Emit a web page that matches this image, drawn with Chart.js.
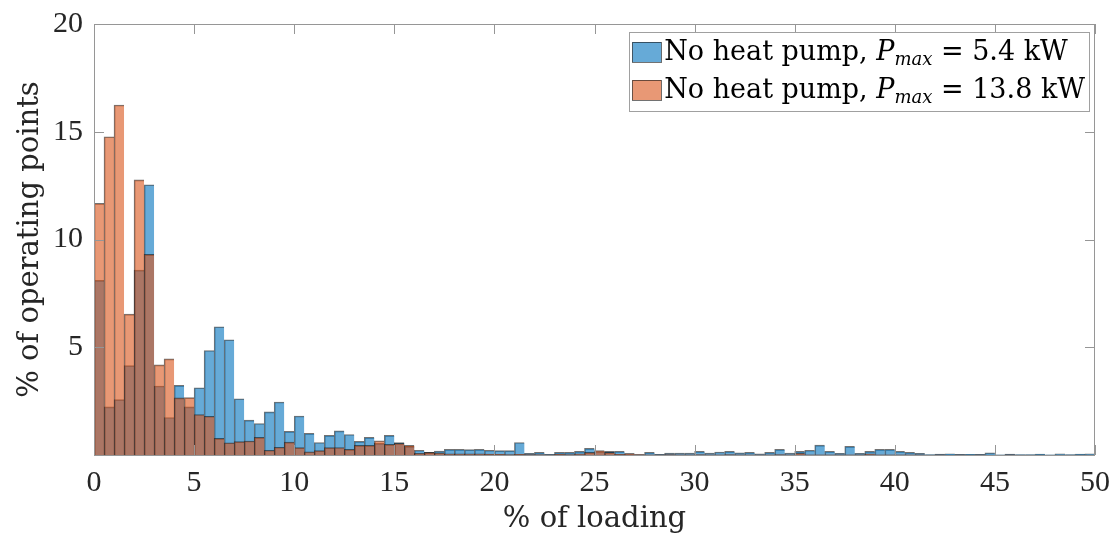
<!DOCTYPE html>
<html>
<head>
<meta charset="utf-8">
<script src="https://cdn.jsdelivr.net/npm/chart.js@4/dist/chart.umd.min.js"></script>
<style>
  html, body { margin: 0; padding: 0; background: #fff; }
  #wrap { width: 1116px; height: 537px; }
</style>
</head>
<body>
<div id="wrap"><canvas id="histChart" width="1116" height="537"></canvas></div>
<script>
// histogram bins: 0..50 % of loading, width 0.5
var binWidth = 0.5;

// % of operating points, no heat pump, Pmax = 5.4 kW
var lowPmax = [
  8.1, 2.23, 2.57, 4.15, 8.58, 12.54, 3.2, 1.74, 3.23, 2.23,
  3.12, 4.85, 5.95, 5.35, 2.61, 1.62, 1.46, 2.0, 2.46, 1.1,
  1.81, 1.0, 0.58, 0.91, 1.12, 0.95, 0.63, 0.82, 0.54, 0.91,
  0.58, 0.4, 0.22, 0.12, 0.18, 0.26, 0.26, 0.25, 0.26, 0.22,
  0.2, 0.2, 0.58, 0.08, 0.12, 0.03, 0.12, 0.12, 0.17, 0.31,
  0.15, 0.17, 0.17, 0.07, 0.02, 0.12, 0.03, 0.09, 0.09, 0.09,
  0.17, 0.09, 0.14, 0.17, 0.1, 0.12, 0.05, 0.12, 0.26, 0.09,
  0.17, 0.22, 0.46, 0.17, 0.08, 0.4, 0.08, 0.17, 0.26, 0.26,
  0.17, 0.12, 0.08, 0.02, 0.04, 0.06, 0.03, 0.03, 0.03, 0.1,
  0.01, 0.04, 0.02, 0.02, 0.04, 0.01, 0.05, 0.02, 0.04, 0.05
];

// % of operating points, no heat pump, Pmax = 13.8 kW
var highPmax = [
  11.68, 14.77, 16.24, 6.54, 12.77, 9.31, 4.18, 4.46, 2.65, 2.66,
  1.88, 1.8, 0.77, 0.57, 0.62, 0.65, 0.82, 0.22, 0.36, 0.6,
  0.34, 0.15, 0.2, 0.34, 0.35, 0.26, 0.45, 0.45, 0.66, 0.49,
  0.54, 0.45, 0.08, 0.12, 0.1, 0.05, 0.05, 0.05, 0.05, 0.04,
  0.03, 0.02, 0.03, 0.02, 0.02, 0.01, 0.03, 0.02, 0.05, 0.12,
  0.2, 0.12, 0.03, 0.07, 0.02, 0.01, 0.01, 0.02, 0.01, 0.01,
  0.02, 0.01, 0.01, 0.02, 0.01, 0.01, 0.01, 0.01, 0.02, 0.01,
  0.08, 0.01, 0.01, 0.01, 0.01, 0.01, 0.01, 0.05, 0.01, 0.01,
  0.01, 0.01, 0.01, 0, 0.01, 0, 0.01, 0, 0.01, 0,
  0, 0.01, 0, 0, 0, 0, 0, 0, 0, 0
];

var xTicks = [0, 5, 10, 15, 20, 25, 30, 35, 40, 45, 50];
var yTicks = [0, 5, 10, 15, 20];

var legendNames = ['No heat pump, ', 'No heat pump, '];
var legendValues = [' = 5.4 kW', ' = 13.8 kW'];

var blueFill = 'rgba(0, 114, 189, 0.6)';
var orangeFill = 'rgba(217, 83, 25, 0.6)';
var edge = 'rgba(20, 20, 20, 0.6)';
var serif = "'Liberation Serif', 'DejaVu Serif', serif";
var wideSerif = "'DejaVu Serif', 'Liberation Serif', serif";

function toPoints(values) {
  return values.map(function (v, i) {
    return { x: (i + 0.5) * binWidth, y: v };
  });
}

// box around the axes plus inward ticks on all four sides (MATLAB style)
var frameTicks = {
  id: 'frameTicks',
  afterDatasetsDraw: function (chart) {
    var ctx = chart.ctx;
    var a = chart.chartArea;
    var x = chart.scales.x;
    var y = chart.scales.y;
    var len = 10;
    ctx.save();
    ctx.strokeStyle = '#969696';
    ctx.lineWidth = 1;
    ctx.beginPath();
    xTicks.forEach(function (t) {
      var px = Math.round(x.getPixelForValue(t)) + 0.5;
      ctx.moveTo(px, a.bottom);
      ctx.lineTo(px, a.bottom - len);
      ctx.moveTo(px, a.top);
      ctx.lineTo(px, a.top + len);
    });
    yTicks.forEach(function (t) {
      var py = Math.round(y.getPixelForValue(t)) + 0.5;
      ctx.moveTo(a.left, py);
      ctx.lineTo(a.left + len, py);
      ctx.moveTo(a.right, py);
      ctx.lineTo(a.right - len, py);
    });
    ctx.stroke();
    ctx.strokeRect(Math.round(a.left) + 0.5, Math.round(a.top) + 0.5,
      Math.round(a.width) - 1, Math.round(a.height));
    ctx.restore();
  }
};

// legend with italic P and subscript "max"
var mathLegend = {
  id: 'mathLegend',
  afterDraw: function (chart) {
    var ctx = chart.ctx;
    var a = chart.chartArea;
    var boxRight = a.right - 6;
    var boxTop = a.top + 8;
    var boxH = 79;
    var lineH = 38;
    var fs = 27;
    var subFs = 18;
    var patchW = 29, patchH = 20;
    var normal = fs + 'px ' + wideSerif;
    var italic = 'italic ' + fs + 'px ' + wideSerif;
    var subItalic = 'italic ' + subFs + 'px ' + wideSerif;

    ctx.save();
    var widths = [0, 1].map(function (i) {
      ctx.font = normal;
      var w = ctx.measureText(legendNames[i]).width + ctx.measureText(legendValues[i]).width;
      ctx.font = italic;
      w += ctx.measureText('P').width;
      ctx.font = subItalic;
      w += ctx.measureText('max').width;
      return w;
    });
    var boxW = 3 + patchW + 3 + Math.max.apply(null, widths) + 4;
    var boxLeft = boxRight - boxW;

    ctx.fillStyle = '#fff';
    ctx.fillRect(boxLeft, boxTop, boxW, boxH);
    ctx.strokeStyle = '#a0a0a0';
    ctx.lineWidth = 1;
    ctx.strokeRect(Math.round(boxLeft) + 0.5, Math.round(boxTop) + 0.5, Math.round(boxW), boxH);

    var fills = [blueFill, orangeFill];
    for (var i = 0; i < 2; i++) {
      var cy = boxTop + 20 + i * lineH;
      var px = boxLeft + 3;
      ctx.fillStyle = fills[i];
      ctx.fillRect(px, cy - patchH / 2, patchW, patchH);
      ctx.strokeStyle = edge;
      ctx.strokeRect(Math.round(px) + 0.5, Math.round(cy - patchH / 2) + 0.5, patchW, patchH);

      var tx = px + patchW + 3;
      var base = cy + 8;
      ctx.fillStyle = '#000';
      ctx.textBaseline = 'alphabetic';
      ctx.textAlign = 'left';
      ctx.font = normal;
      ctx.fillText(legendNames[i], tx, base);
      tx += ctx.measureText(legendNames[i]).width;
      ctx.font = italic;
      ctx.fillText('P', tx, base);
      tx += ctx.measureText('P').width;
      ctx.font = subItalic;
      ctx.fillText('max', tx, base + 5);
      tx += ctx.measureText('max').width;
      ctx.font = normal;
      ctx.fillText(legendValues[i], tx, base);
    }
    ctx.restore();
  }
};

var chart = new Chart(document.getElementById('histChart'), {
  type: 'bar',
  data: {
    datasets: [
      {
        label: 'No heat pump, Pmax = 5.4 kW',
        data: toPoints(lowPmax),
        backgroundColor: blueFill,
        borderColor: edge,
        borderWidth: { top: 1, left: 1, right: 0, bottom: 0 },
        borderSkipped: false,
        order: 2
      },
      {
        label: 'No heat pump, Pmax = 13.8 kW',
        data: toPoints(highPmax),
        backgroundColor: orangeFill,
        borderColor: edge,
        borderWidth: { top: 1, left: 1, right: 0, bottom: 0 },
        borderSkipped: false,
        order: 1
      }
    ]
  },
  options: {
    responsive: false,
    animation: false,
    devicePixelRatio: 1,
    layout: { padding: { top: 24, right: 21, left: 0, bottom: 0 } },
    datasets: {
      bar: { grouped: false, barPercentage: 1, categoryPercentage: 1 }
    },
    plugins: {
      legend: { display: false },
      tooltip: { enabled: false }
    },
    scales: {
      x: {
        type: 'linear',
        min: 0,
        max: 50,
        offset: false,
        grid: { display: false, drawTicks: false },
        border: { display: false },
        afterFit: function (scale) {
          scale.height = 82;
          scale.paddingLeft = 0;
          scale.paddingRight = 0;
        },
        afterBuildTicks: function (scale) {
          scale.ticks = xTicks.map(function (v) { return { value: v }; });
        },
        ticks: {
          padding: 10,
          maxRotation: 0,
          color: '#262626',
          font: { family: serif, size: 30 }
        },
        title: {
          display: true,
          text: '% of loading',
          color: '#262626',
          padding: { top: 0, bottom: 0 },
          font: { family: wideSerif, size: 29 }
        }
      },
      y: {
        min: 0,
        max: 20,
        grid: { display: false, drawTicks: false },
        border: { display: false },
        afterFit: function (scale) {
          scale.width = 94;
          scale.paddingTop = 0;
          scale.paddingBottom = 0;
        },
        afterBuildTicks: function (scale) {
          scale.ticks = yTicks.map(function (v) { return { value: v }; });
        },
        ticks: {
          padding: 11,
          color: '#262626',
          font: { family: serif, size: 30 },
          callback: function (v) { return v === 0 ? '' : v; }
        },
        title: {
          display: true,
          text: '% of operating points',
          color: '#262626',
          padding: { top: 13, bottom: 0 },
          font: { family: wideSerif, size: 29 }
        }
      }
    }
  },
  plugins: [frameTicks, mathLegend]
});
</script>
</body>
</html>
